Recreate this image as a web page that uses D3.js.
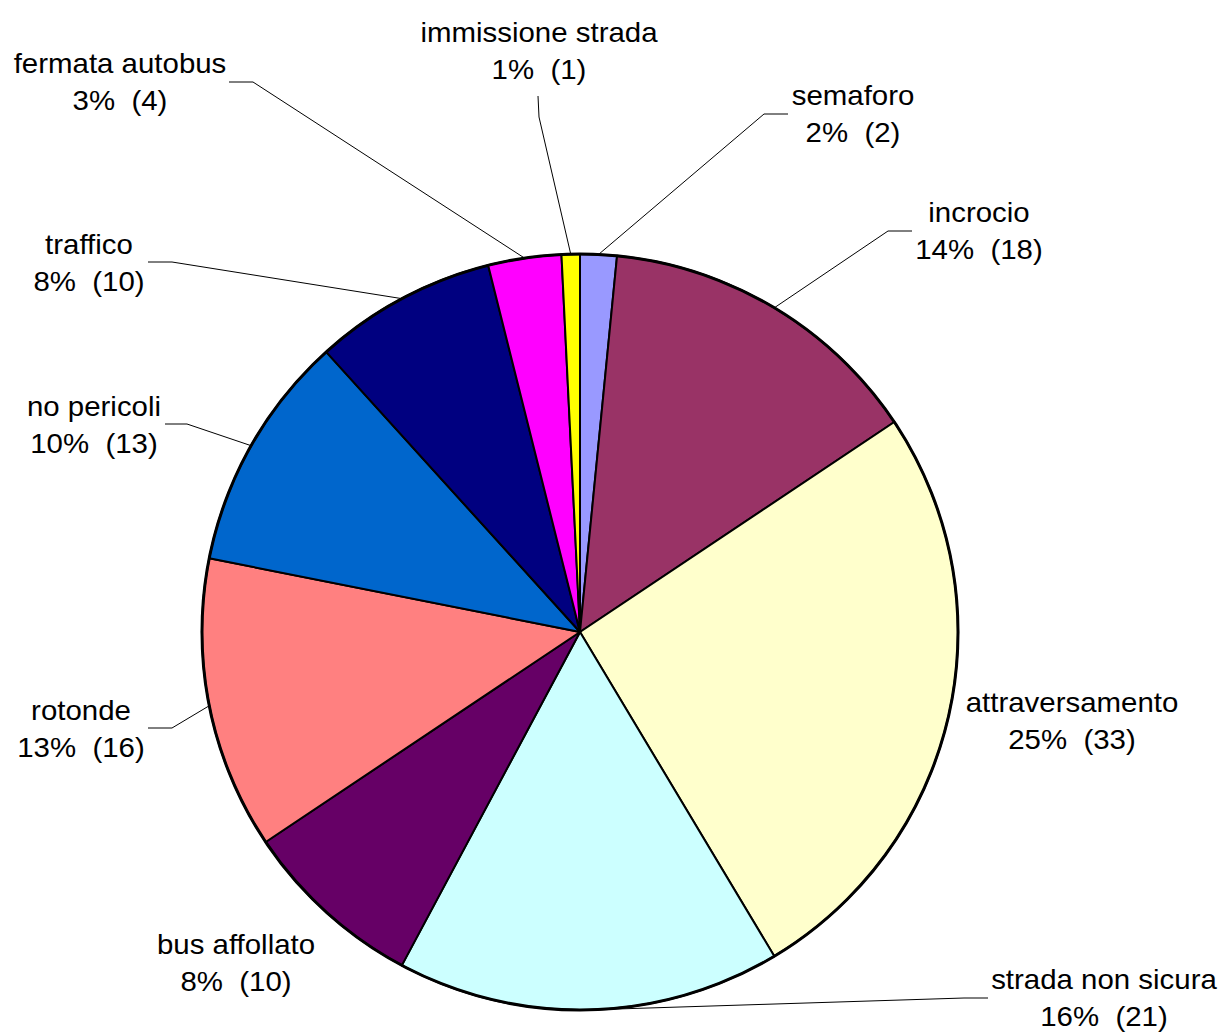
<!DOCTYPE html>
<html>
<head>
<meta charset="utf-8">
<script src="https://cdn.jsdelivr.net/npm/d3@7"></script>
<style>
  html, body { margin: 0; padding: 0; background: #fff; }
  svg { display: block; }
  text { font-family: "Liberation Sans", Arial, sans-serif; font-size: 27px; fill: #000; white-space: pre; }
</style>
</head>
<body>
<svg id="chart" width="1221" height="1032"></svg>
<script>
// ---- data ----
const categories = ["semaforo", "incrocio", "attraversamento", "strada non sicura", "bus affollato",
                    "rotonde", "no pericoli", "traffico", "fermata autobus", "immissione strada"];
const counts = [2, 18, 33, 21, 10, 16, 13, 10, 4, 1];
const percentLabels = ["2%", "14%", "25%", "16%", "8%", "13%", "10%", "8%", "3%", "1%"];
const sliceColors = ["#9999FF", "#993366", "#FFFFCC", "#CCFFFF", "#660066",
                     "#FF8080", "#0066CC", "#000080", "#FF00FF", "#FFFF00"];

// ---- layout (label placement, not data) ----
const cx = 580, cy = 632, R = 378;
const labelLayout = {
  "semaforo":          { x: 853,  y: 105, leader: [[788, 114], [764, 114]] },
  "incrocio":          { x: 979,  y: 222, leader: [[912, 231], [888, 231]] },
  "attraversamento":   { x: 1072, y: 712, leader: null },
  "strada non sicura": { x: 1104, y: 989, leader: [[988, 998], [964, 998]] },
  "bus affollato":     { x: 236,  y: 954, leader: null },
  "rotonde":           { x: 81,   y: 720, leader: [[148, 728], [172, 728]] },
  "no pericoli":       { x: 94,   y: 416, leader: [[165, 424], [187, 424]] },
  "traffico":          { x: 89,   y: 254, leader: [[148, 262], [172, 262]] },
  "fermata autobus":   { x: 120,  y: 73,  leader: [[229, 82], [253, 82]] },
  "immissione strada": { x: 539,  y: 42,  leader: [[538, 96], [539, 117]] }
};
const lineGap = 37;
const stretch = 1.09;

const data = categories.map((c, i) => ({ name: c, value: counts[i], pct: percentLabels[i], color: sliceColors[i] }));

const svg = d3.select("#chart");
const g = svg.append("g").attr("transform", `translate(${cx},${cy})`);

const pie = d3.pie().value(d => d.value).sort(null);
const arcs = pie(data);
const arc = d3.arc().innerRadius(0).outerRadius(R);

g.selectAll("path.slice")
  .data(arcs)
  .enter().append("path")
  .attr("class", "slice")
  .attr("d", arc)
  .attr("fill", d => d.data.color)
  .attr("stroke", "#000")
  .attr("stroke-width", 2)
  .attr("stroke-linejoin", "round");

g.append("circle").attr("r", R).attr("fill", "none").attr("stroke", "#000").attr("stroke-width", 3);

const lineGen = d3.line();
arcs.forEach(a => {
  const L = labelLayout[a.data.name];
  if (!L.leader) return;
  const mid = (a.startAngle + a.endAngle) / 2;
  const px = cx + R * Math.sin(mid), py = cy - R * Math.cos(mid);
  const pts = L.leader.concat([[px, py]]);
  svg.append("path")
    .attr("d", lineGen(pts))
    .attr("fill", "none")
    .attr("stroke", "#000")
    .attr("stroke-width", 1);
});

arcs.forEach(a => {
  const L = labelLayout[a.data.name];
  const lg = svg.append("g").attr("transform", `translate(${L.x},${L.y}) scale(${stretch},1)`);
  lg.append("text").attr("x", 0).attr("y", 0).attr("text-anchor", "middle").text(a.data.name);
  lg.append("text").attr("x", 0).attr("y", lineGap).attr("text-anchor", "middle")
    .text(`${a.data.pct}  (${a.data.value})`);
});
</script>
</body>
</html>
